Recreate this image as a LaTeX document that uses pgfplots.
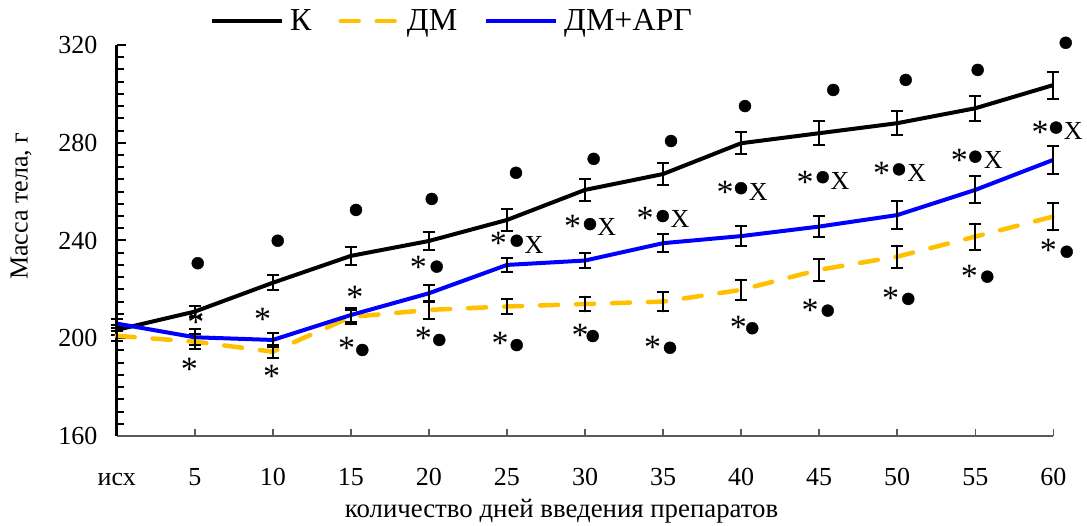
\documentclass[border=0pt]{standalone}
\usepackage{fontspec}
\setmainfont{Liberation Serif}
\usepackage{pgfplots}
\usepackage{pgfplotstable}
\pgfplotsset{compat=1.18}
\definecolor{myyellow}{RGB}{255,192,0}
\definecolor{myblue}{RGB}{0,0,255}

\pgfplotstableread{
x  k      ke   dm     dme  da     dae
0  203.4  2.0  201.0  2.0  206.0  2.0
1  210.9  2.4  198.6  3.0  200.4  3.2
2  222.7  3.0  194.5  2.7  199.3  3.0
3  233.7  3.7  208.7  3.0  209.5  3.0
4  239.8  3.7  211.6  3.7  218.4  3.5
5  248.4  4.4  213.0  3.0  230.0  3.0
6  260.7  4.4  214.0  3.0  231.8  3.0
7  267.2  4.6  215.0  4.0  238.9  3.7
8  279.8  4.5  219.8  4.2  241.8  4.0
9  283.9  4.8  228.0  4.5  245.7  4.4
10 288.0  5.0  233.4  4.5  250.4  5.8
11 294.1  5.0  241.6  5.3  260.7  5.5
12 303.6  5.5  249.8  5.7  273.0  5.8
}\data

\pgfplotsset{
  shortlegend/.style={legend image code/.code={\draw[##1] (0pt,0pt) -- (58pt,0pt);}}
}

\begin{document}
\begin{tikzpicture}
\path[use as bounding box] (0pt,0pt) rectangle (1087pt,526pt);
\begin{axis}[
  at={(116.7pt,90pt)}, anchor=south west,
  scale only axis, width=936.6pt, height=391pt,
  xmin=0, xmax=12, ymin=160, ymax=320,
  clip=false,
  axis x line=bottom, axis y line=left,
  x axis line style={-, black!65, line width=1.5pt},
  y axis line style={-, black, line width=2.6pt},
  xtick={0,...,12},
  xticklabels={исх,5,10,15,20,25,30,35,40,45,50,55,60},
  ytick={160,200,240,280,320},
  minor y tick num=7,
  major tick length=9pt, minor tick length=7pt,
  xtick align=inside, ytick align=inside,
  x tick style={black!65, line width=1.5pt, /pgfplots/major tick length=7pt},
  y tick style={black, line width=2pt},
  minor y tick style={black, line width=2pt},
  /pgf/number format/assume math mode=true,
  tick label style={font=\fontsize{26}{30}\selectfont},
  xticklabel style={anchor=base, inner sep=0pt, yshift=-50pt},
  yticklabel style={anchor=east, inner sep=0pt, xshift=-19pt},
  ylabel={Масса тела, г},
  ylabel style={font=\fontsize{26}{30}\selectfont, at={(axis description cs:-0.102,0.588)}, anchor=center},
  xlabel={количество дней введения препаратов},
  xlabel style={font=\fontsize{26.8}{30}\selectfont, at={(axis description cs:0.475,-0.2097)}, anchor=base},
  legend style={at={(axis description cs:0.3575,1.0614)}, anchor=center, draw=none, fill=none,
    font=\fontsize{32}{36}\selectfont, nodes={inner sep=1pt},
    /tikz/every odd column/.append style={column sep=5pt},
    /tikz/every even column/.append style={column sep=26pt}},
  legend columns=3,
  legend image code/.code={\draw[#1] (0pt,0pt) -- (70pt,0pt);},
  error bars/y dir=both, error bars/y explicit,
  error bars/error bar style={solid, black, line width=2pt},
  error bars/error mark options={solid, black, line width=2pt, mark size=6pt, rotate=90},
]
\addplot[black, line width=4pt, mark=none] table[x=x, y=k, y error=ke] {\data};
\addlegendentry{К}
\addplot[myyellow, line width=4.5pt, mark=none, dash pattern=on 18pt off 18pt, line cap=round,
  shortlegend] table[x=x, y=dm, y error=dme] {\data};
\addlegendentry{ДМ}
\addplot[myblue, line width=4pt, mark=none] table[x=x, y=da, y error=dae] {\data};
\addlegendentry{ДМ+АРГ}

% dots
\addplot[only marks, mark=*, mark size=6pt, black, forget plot] coordinates {
(1.038,230.7) (2.063,239.9) (3.066,252.5) (4.036,257.0) (5.116,267.7) (6.111,273.4)
(7.102,280.7) (8.050,295.0) (9.181,301.6) (10.109,305.7) (11.031,309.8) (12.159,320.9)
(5.125,239.9) (6.064,246.7) (6.996,250.0) (7.999,261.4) (9.046,265.9) (10.023,269.1)
(11.001,274.3) (12.035,286.2) (4.100,229.3)
(3.147,195.2) (4.133,199.3) (5.125,197.2) (6.099,200.9) (7.089,196.1) (8.143,204.1)
(9.110,211.3) (10.142,216.1) (11.154,225.2) (12.172,235.4)
};
% asterisks
\addplot[only marks, forget plot, mark=text, text mark={*}, text mark as node=true,
  text mark style={font=\fontsize{34}{36}\selectfont, inner sep=0pt, yshift=-5.4pt}] coordinates {
(1.016,208.8) (0.930,189.5) (1.871,209.9) (1.986,186.6) (3.053,219.0) (2.947,197.9)
(3.864,231.3) (3.928,202.0) (4.889,240.9) (4.911,200.0) (5.842,248.1) (5.936,203.4)
(6.769,251.1) (6.867,198.6) (7.794,261.9) (7.964,206.8) (8.819,266.1) (8.883,213.6)
(9.801,269.5) (9.917,218.4) (10.796,275.0) (10.924,227.6) (11.830,286.6) (11.936,238.2)
};
% X marks
\addplot[only marks, forget plot, mark=text, text mark={X}, text mark as node=true,
  text mark style={font=\fontsize{26}{30}\selectfont, inner sep=0pt}] coordinates {
(5.347,238.2) (6.278,245.6) (7.217,248.8) (8.220,260.0) (9.267,264.5) (10.250,267.7)
(11.231,272.9) (12.256,284.8)
};
\end{axis}
\end{tikzpicture}
\end{document}
